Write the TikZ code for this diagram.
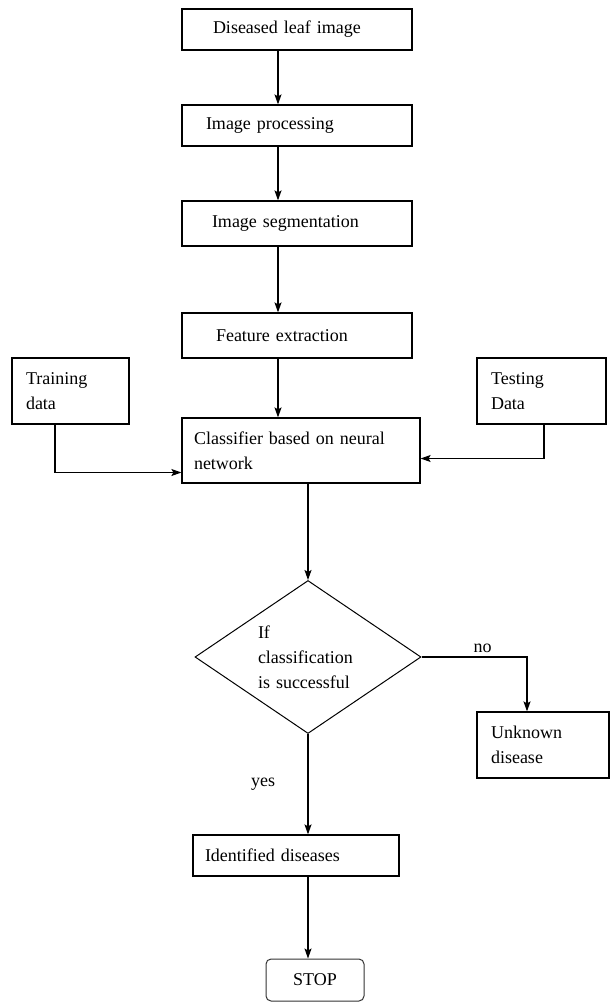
\documentclass[tikz,border=0pt]{standalone}
\usepackage{fontspec}
\setmainfont{Liberation Serif}
\usetikzlibrary{shapes,shapes.geometric,arrows,arrows.meta,calc,positioning}

\begin{document}
\begin{tikzpicture}[x=1pt, y=-1pt, >={Stealth[length=10pt,width=7pt,inset=2pt]},
    line width=1.2pt, font=\fontsize{18}{25}\selectfont,
    box/.style={draw, line width=1.2pt, align=left, inner ysep=0pt},
    decision/.style={diamond, draw, line width=1pt, aspect=1.5, align=left,
      inner sep=0pt, minimum width=226pt, minimum height=153pt}]
    \useasboundingbox (0,0) rectangle (611,1003);
    \coordinate (ax) at (278,0);
    \coordinate (tr) at (55,0);
    \coordinate (te) at (544,0);

    \node [box, text width=168pt, inner xsep=31pt, minimum height=41pt] (L) at (297,29.5) {Diseased leaf image};
    \node [box, text width=182pt, inner xsep=24pt, minimum height=41pt] (P) at (297,125.5) {Image processing};
    \node [box, text width=170pt, inner xsep=30pt, minimum height=45pt] (S) at (297,223.5) {Image segmentation};
    \node [box, text width=162pt, inner xsep=34pt, minimum height=45pt] (F) at (297,335.5) {Feature extraction};
    \node [box, text width=214pt, inner xsep=12pt, minimum height=65pt] (C) at (301,450.5) {Classifier based on neural\\network};
    \node [box, text width=89pt, inner xsep=14pt, minimum height=66pt]  (T) at (70.5,391) {Training\\data};
    \node [box, text width=101pt, inner xsep=14pt, minimum height=66pt] (E) at (541.5,391) {Testing\\Data};
    \node [decision, text width=100pt]                                  (D) at (308,657) {If\\classification\\is successful};
    \node [box, text width=104pt, inner xsep=14pt, minimum height=66pt] (U) at (543,745) {Unknown\\disease};
    \node [box, text width=182pt, inner xsep=12pt, minimum height=41pt] (I) at (296,855.5) {Identified diseases};
    \node [draw=black!80, line width=1pt, rounded corners=5pt,
           minimum width=98pt, minimum height=42pt]                     (X) at (315,980) {STOP};

    \path[->] (L.south -| ax) edge (P.north -| ax)
              (P.south -| ax) edge (S.north -| ax)
              (S.south -| ax) edge (F.north -| ax)
              (F.south -| ax) edge (C.north -| ax)
              (C.south -| D.north) edge (D.north)
              (D.south) edge node [left, xshift=-29pt] {yes} (I.north -| D.south)
              (I.south -| D.south) edge (X.north -| D.south);
    \draw[->] (T.south -| tr) |- ([yshift=-22pt]C.west);
    \draw[->] (E.south -| te) |- ([yshift=-8pt]C.east);
    \draw[->] (D.east) -| node [above, pos=0.29] {no} ([xshift=-16pt]U.north);
\end{tikzpicture}
\end{document}
